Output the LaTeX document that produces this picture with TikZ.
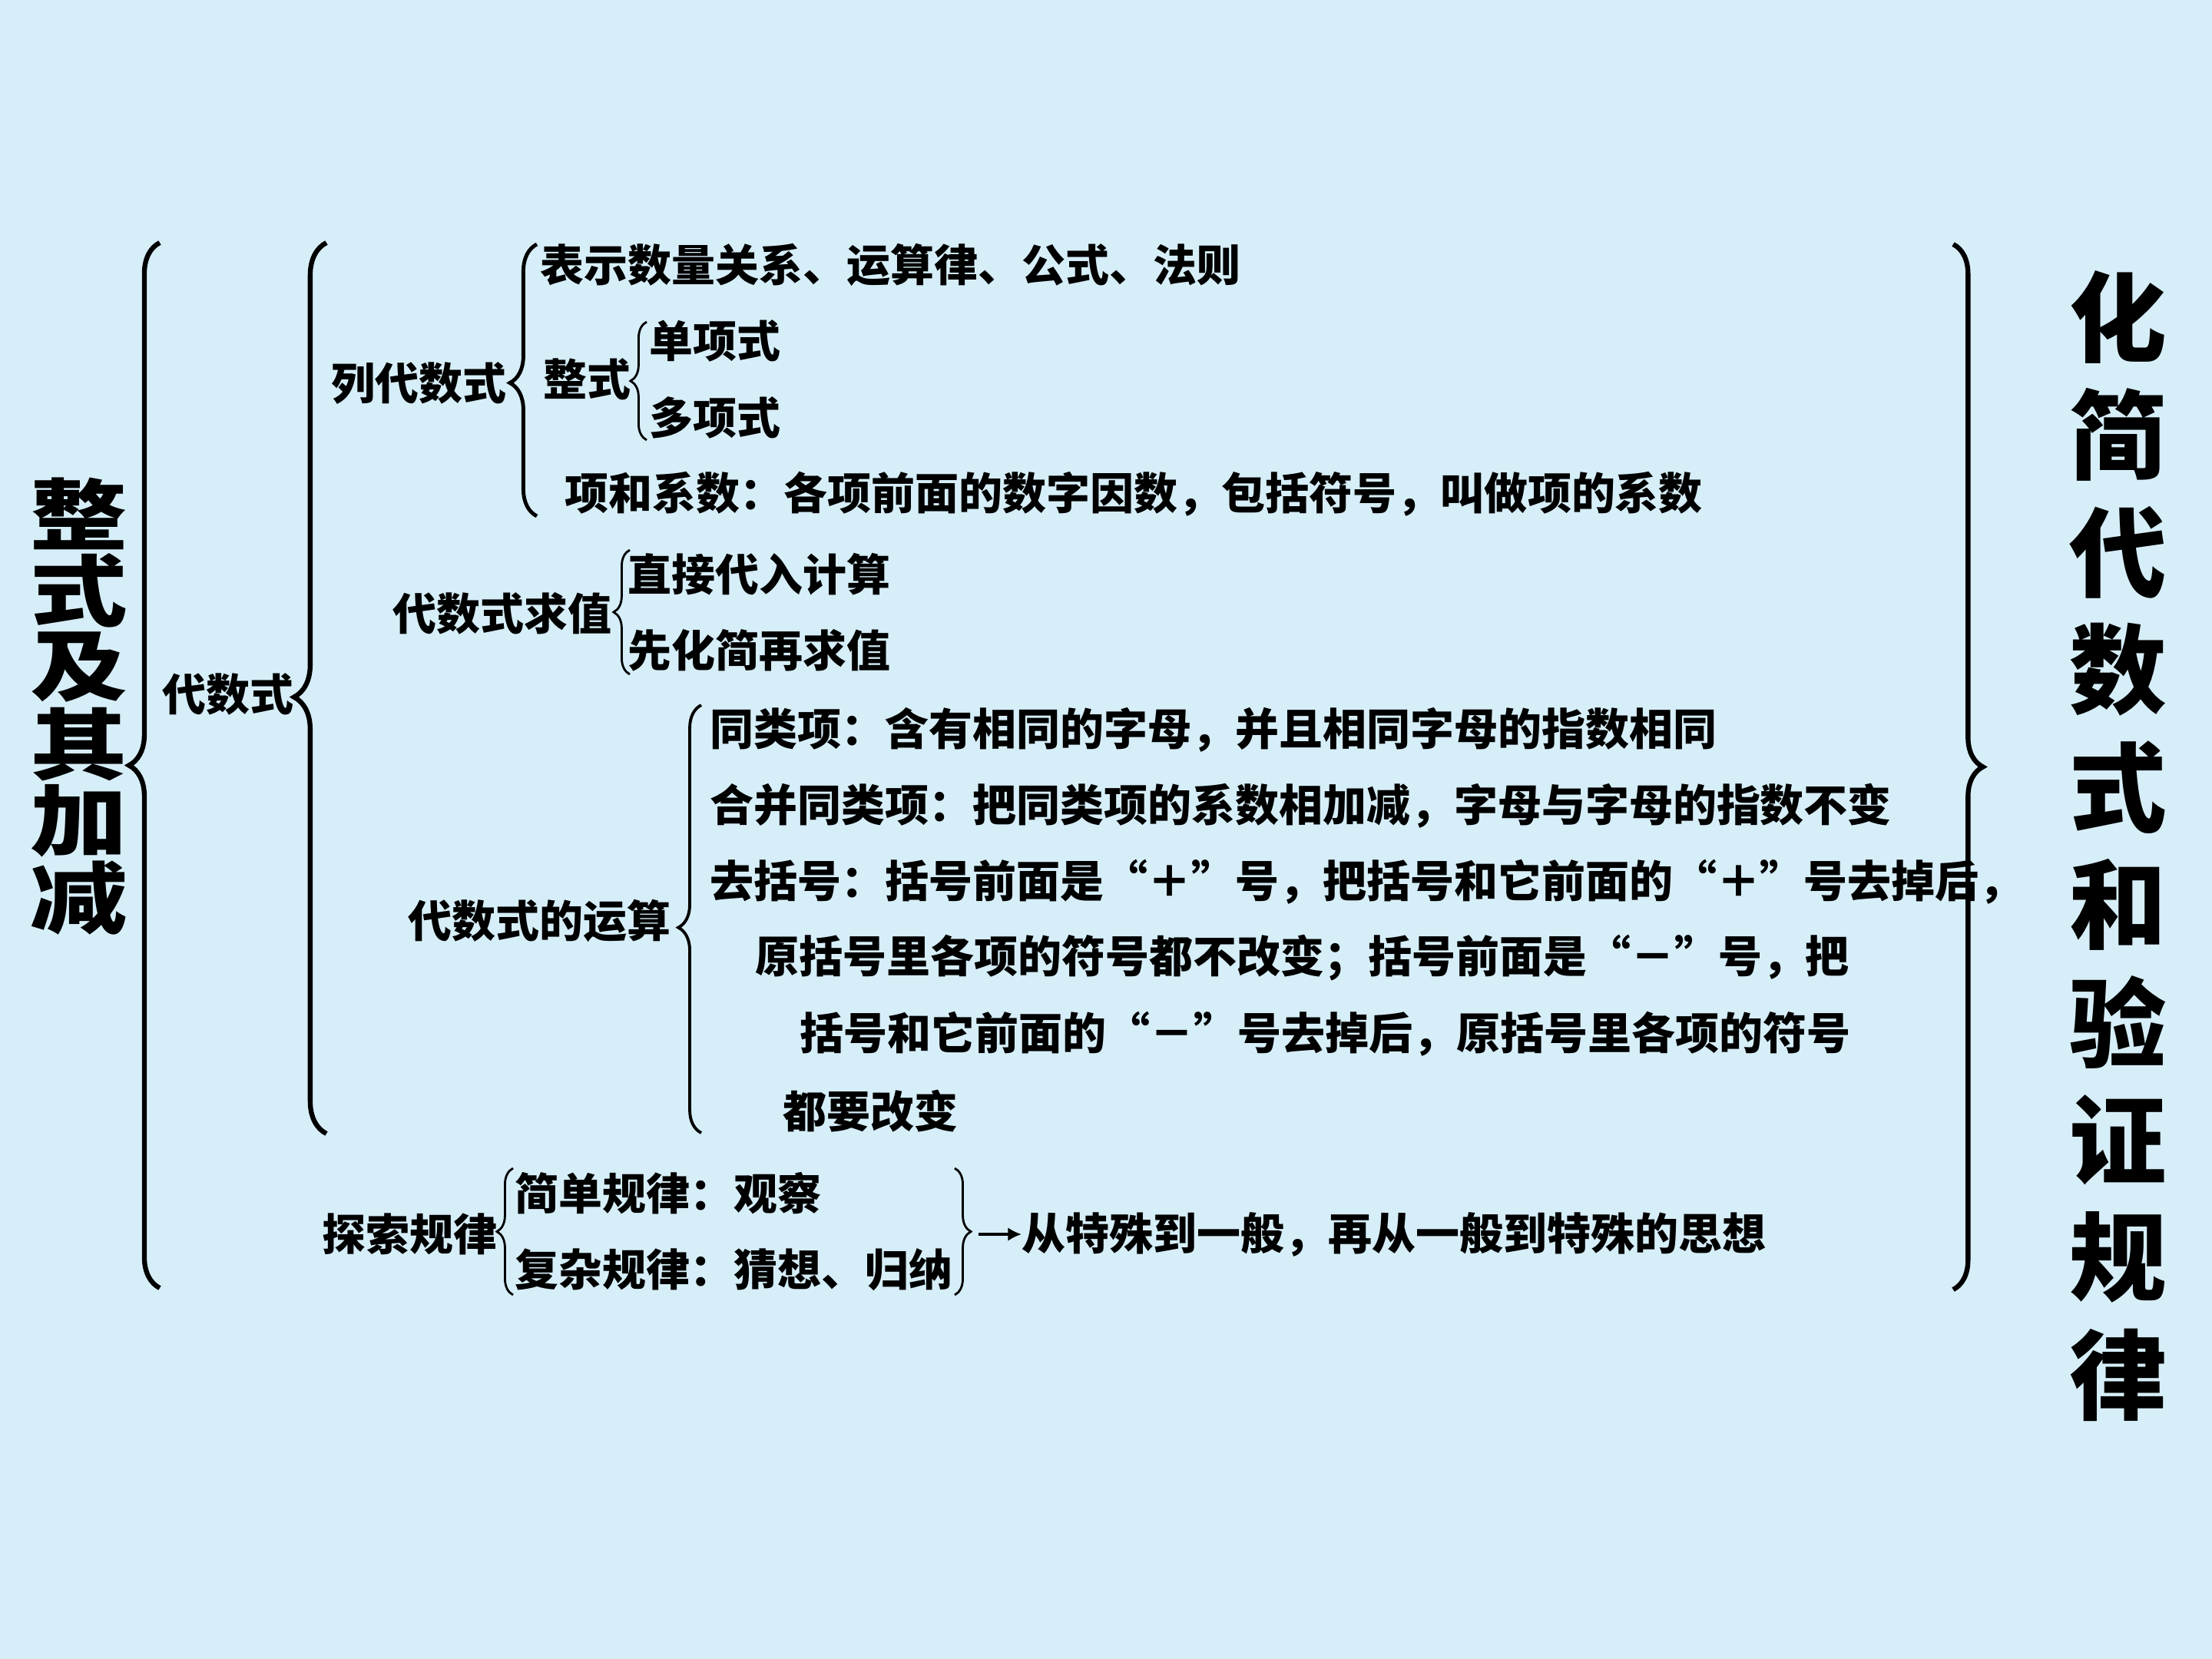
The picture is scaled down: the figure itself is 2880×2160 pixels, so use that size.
\documentclass[tikz,border=0pt]{standalone}
\usepackage{fontspec}
\newfontfamily\cjk{Noto Sans CJK SC}
\usetikzlibrary{arrows.meta,decorations.pathreplacing}
\definecolor{bgblue}{RGB}{214,238,248}

\begin{document}
\begin{tikzpicture}[x=0.01cm,y=-0.01cm,
  txt/.style={anchor=west,inner sep=0pt,font=\cjk\bfseries\fontsize{16.2}{16.2}\selectfont},
  ttl/.style={inner sep=0pt,font=\cjk\bfseries\fontsize{36}{36}\selectfont},
  brc/.style={line width=#1,decorate},
  arr/.style={line width=0.9pt,-{Latex[length=5pt,width=5pt]}}]
\fill[bgblue] (0,0) rectangle (2880,2160);
\useasboundingbox (0,0) rectangle (2880,2160);

% titles at both sides
\foreach \ch [count=\i from 0] in {整,式,及,其,加,减}
  \node[ttl,inner ysep=-6pt] (lt\i) at (103,{669+\i*100}) {\scalebox{1}[0.8]{\ch}};
\foreach \ch [count=\i from 0] in {化,简,代,数,式,和,验,证,规,律}
  \node[ttl] (rt\i) at (2758,{413+\i*153}) {\ch};

% braces: x / start y / end y / amplitude / aspect / width
\foreach \bx/\sy/\ey/\amp/\asp/\lw in {%
  208/1677/316/11.4pt/0.50/1.8pt,
  425/1476/316/12pt/0.49/1.8pt,
  699/672/318/10pt/0.49/1.4pt,
  842/573/419/6pt/0.5/0.8pt,
  820/878/716/6pt/0.5/0.8pt,
  913/1475/918/8.5pt/0.48/1.1pt,
  668/1686/1521/6pt/0.5/0.8pt,
  1243/1521/1686/6pt/0.5/0.8pt,
  2543/318/1679/11pt/0.5/1.8pt} {
  \draw[brc=\lw,decoration={brace,amplitude=\amp,aspect=\asp}] (\bx,\sy) -- (\bx,\ey);
}

\node[txt] (dsx) at (211,904) {代数式};
\node[txt] (ldx) at (431,499) {列代数式};
\node[txt] (bs) at (703,345) {表示数量关系、运算律、公式、法则};
\node[txt] (zs) at (707,494) {整式};
\node[txt] (dan) at (845,444) {单项式};
\node[txt] (duo) at (845,544) {多项式};
\node[txt] (xs) at (735,643) {项和系数：各项前面的数字因数，包括符号，叫做项的系数};

\node[txt] (qz) at (511,799) {代数式求值};
\node[txt] (zj) at (817,748) {直接代入计算};
\node[txt] (xh) at (817,847) {先化简再求值};

\node[txt] (ys) at (531,1199) {代数式的运算};
\node[txt] (l1) at (924,950) {同类项：含有相同的字母，并且相同字母的指数相同};
\node[txt] (l2) at (924,1049) {合并同类项：把同类项的系数相加减，字母与字母的指数不变};
\node[txt] (l3) at (924,1148) {去括号：括号前面是“＋”号，把括号和它前面的“＋”号去掉后，};
\node[txt] (l4) at (983,1247) {原括号里各项的符号都不改变；括号前面是“－”号，把};
\node[txt] (l5) at (1041,1346) {括号和它前面的“－”号去掉后，原括号里各项的符号};
\node[txt] (l6) at (1019,1447) {都要改变};

\node[txt] (ts) at (419,1607) {探索规律};
\node[txt] (jd) at (670,1554) {简单规律：观察};
\node[txt] (fz) at (670,1653) {复杂规律：猜想、归纳};
\node[txt] (cong) at (1330,1607) {从特殊到一般，再从一般到特殊的思想};
\coordinate (tstip) at (1274,1607);
\draw[arr] (tstip) -- (cong.west);
\end{tikzpicture}
\end{document}
